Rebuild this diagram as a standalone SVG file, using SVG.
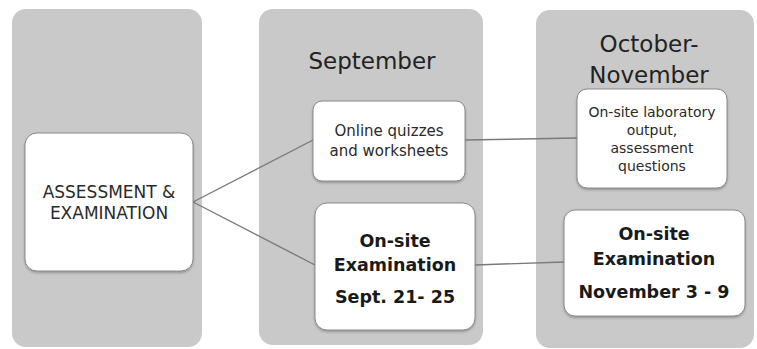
<svg xmlns="http://www.w3.org/2000/svg" width="757" height="349" viewBox="0 0 757 349">
  <defs>
    <filter id="shadow" x="-10%" y="-10%" width="120%" height="125%">
      <feDropShadow dx="0" dy="1.5" stdDeviation="1.2" flood-color="#555" flood-opacity="0.45"/>
    </filter>
  </defs>
  <style>
    .lane { fill: #c9c9c9; }
    .box { fill: #ffffff; stroke: #8a8a8a; stroke-width: 1; filter: url(#shadow); }
    .title { font-family: "DejaVu Sans", sans-serif; font-size: 23px; fill: #222; text-anchor: middle; }
    .txt { font-family: "DejaVu Sans", sans-serif; fill: #2a2a2a; text-anchor: middle; }
    .bold { font-family: "DejaVu Sans", sans-serif; font-weight: bold; font-size: 17.5px; fill: #1a1a1a; text-anchor: middle; }
    .link { fill: none; stroke: #7a7a7a; stroke-width: 1.4; }
  </style>

  <!-- background lanes -->
  <rect class="lane" x="12" y="9" width="190" height="338" rx="14"/>
  <rect class="lane" x="259" y="9" width="224" height="336" rx="14"/>
  <rect class="lane" x="536" y="10" width="218" height="338" rx="14"/>

  <text class="title" x="372" y="69">September</text>
  <text class="title" x="649" y="52">October-</text>
  <text class="title" x="649" y="83">November</text>

  <!-- connectors -->
  <g id="connectors">
    <line class="link" x1="193" y1="202" x2="313" y2="140"/>
    <line class="link" x1="193" y1="202" x2="315" y2="265"/>
    <line class="link" x1="465" y1="140" x2="577" y2="138"/>
    <line class="link" x1="475" y1="265" x2="564" y2="262"/>
  </g>

  <g id="assessment">
    <rect class="box" x="25" y="133" width="168" height="138" rx="12"/>
    <text class="txt" font-size="17" x="109" y="198">ASSESSMENT &amp;</text>
    <text class="txt" font-size="17" x="109" y="219">EXAMINATION</text>
  </g>

  <g id="online-quizzes">
    <rect class="box" x="313" y="101" width="152" height="80" rx="9"/>
    <text class="txt" font-size="15" x="389" y="136">Online quizzes</text>
    <text class="txt" font-size="15" x="389" y="156">and worksheets</text>
  </g>

  <g id="exam-september">
    <rect class="box" x="315" y="203" width="160" height="127" rx="12"/>
    <text class="bold" x="395" y="247">On-site</text>
    <text class="bold" x="395" y="271">Examination</text>
    <text class="bold" x="395" y="303">Sept. 21- 25</text>
  </g>

  <g id="lab-output">
    <rect class="box" x="577" y="89" width="150" height="99" rx="10"/>
    <text class="txt" font-size="14" x="652" y="117">On-site laboratory</text>
    <text class="txt" font-size="14" x="652" y="135">output,</text>
    <text class="txt" font-size="14" x="652" y="153">assessment</text>
    <text class="txt" font-size="14" x="652" y="171">questions</text>
  </g>

  <g id="exam-november">
    <rect class="box" x="564" y="210" width="181" height="106" rx="11"/>
    <text class="bold" x="654" y="240">On-site</text>
    <text class="bold" x="654" y="265">Examination</text>
    <text class="bold" x="654" y="298">November 3 - 9</text>
  </g>
</svg>
